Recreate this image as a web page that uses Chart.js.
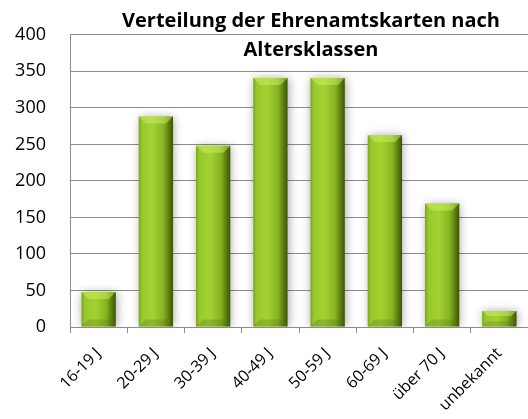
<!DOCTYPE html>
<html>
<head>
<meta charset="utf-8">
<script src="https://cdn.jsdelivr.net/npm/chart.js@4.4.1/dist/chart.umd.min.js"></script>
<style>
  html, body { margin: 0; padding: 0; background: #ffffff; }
  #wrap { width: 528px; height: 419px; position: relative; }
</style>
</head>
<body>
<div id="wrap"><canvas id="chart"></canvas></div>
<script>
// Daten
const categories = ['16-19 J', '20-29 J', '30-39 J', '40-49 J', '50-59 J', '60-69 J', 'über 70 J', 'unbekannt'];
const values = [48, 288, 248, 341, 341, 263, 169, 22];
const titleLines = ['Verteilung der Ehrenamtskarten nach', 'Altersklassen'];

const BAR_PCT = 0.6;

// horizontaler Verlauf pro Balken (Zylinder-Look)
function barGradient(context) {
    const chart = context.chart;
    const xs = chart.scales.x;
    if (!xs || context.dataIndex === undefined) return '#8fbf22';
    const center = xs.getPixelForValue(context.dataIndex);
    const w = (xs.width / categories.length) * BAR_PCT;
    const left = center - w / 2;
    if (!isFinite(left) || !isFinite(w) || w <= 0) return '#8fbf22';
    const g = chart.ctx.createLinearGradient(left, 0, left + w, 0);
    g.addColorStop(0, '#7ea51c');
    g.addColorStop(0.1, '#98c82c');
    g.addColorStop(0.4, '#a3d233');
    g.addColorStop(0.72, '#87b421');
    g.addColorStop(0.88, '#5a7c0e');
    g.addColorStop(1, '#3c5406');
    return g;
}

// Schatten um die Balken + helle Kante oben
const barDeco = {
    id: 'barDeco',
    beforeDatasetsDraw(chart) {
        const ctx = chart.ctx;
        ctx.save();
        ctx.shadowColor = 'rgba(0,0,0,0.35)';
        ctx.shadowBlur = 9;
        ctx.shadowOffsetX = 1;
        ctx.shadowOffsetY = 0;
    },
    afterDatasetsDraw(chart) {
        const ctx = chart.ctx;
        ctx.restore();
        const meta = chart.getDatasetMeta(0);
        ctx.save();
        meta.data.forEach(bar => {
            const w = bar.width;
            const l = bar.x - w / 2, r = bar.x + w / 2;
            const t = bar.y, b = bar.base;
            const bev = Math.min(7, (b - t) / 3);
            // Oberkante
            ctx.fillStyle = 'rgba(205,240,100,0.5)';
            ctx.beginPath();
            ctx.moveTo(l, t);
            ctx.lineTo(r, t);
            ctx.lineTo(r - bev, t + bev);
            ctx.lineTo(l + bev, t + bev);
            ctx.closePath();
            ctx.fill();
            // Unterkante
            ctx.fillStyle = 'rgba(80,105,15,0.25)';
            ctx.beginPath();
            ctx.moveTo(l, b);
            ctx.lineTo(r, b);
            ctx.lineTo(r - bev, b - bev);
            ctx.lineTo(l + bev, b - bev);
            ctx.closePath();
            ctx.fill();
        });
        ctx.restore();
    }
};

// Titel liegt über der Zeichenfläche
const overTitle = {
    id: 'overTitle',
    afterDraw(chart) {
        const ctx = chart.ctx;
        ctx.save();
        ctx.fillStyle = '#000000';
        ctx.font = 'bold 20px "Open Sans"';
        ctx.textAlign = 'center';
        ctx.textBaseline = 'middle';
        ctx.fillText(titleLines[0], 311, 21);
        ctx.fillText(titleLines[1], 311, 50);
        ctx.restore();
    }
};

new Chart(document.getElementById('chart'), {
    type: 'bar',
    data: {
        labels: categories,
        datasets: [{
            data: values,
            backgroundColor: barGradient,
            borderWidth: 0,
            barPercentage: BAR_PCT,
            categoryPercentage: 1
        }]
    },
    options: {
        responsive: true,
        maintainAspectRatio: false,
        animation: false,
        layout: { padding: { top: 31, right: -3, left: 0, bottom: 0 } },
        plugins: {
            legend: { display: false },
            title: { display: false },
            tooltip: { enabled: false }
        },
        scales: {
            x: {
                offset: true,
                grid: {
                    offset: true,
                    drawOnChartArea: false,
                    drawTicks: true,
                    tickLength: 6,
                    color: '#8c8c8c'
                },
                border: { color: '#8c8c8c' },
                ticks: {
                    color: '#000000',
                    font: { family: 'Open Sans', size: 16 },
                    maxRotation: 45,
                    minRotation: 45,
                    padding: 11
                },
                afterFit(scale) { scale.height = 92; }
            },
            y: {
                min: 0,
                max: 400,
                ticks: {
                    stepSize: 50,
                    color: '#000000',
                    font: { family: 'Open Sans', size: 18 },
                    padding: 24
                },
                grid: {
                    color: '#8c8c8c',
                    drawTicks: false
                },
                border: { color: '#8c8c8c' },
                afterFit(scale) { scale.width = 70; }
            }
        }
    },
    plugins: [barDeco, overTitle]
});
</script>
</body>
</html>
